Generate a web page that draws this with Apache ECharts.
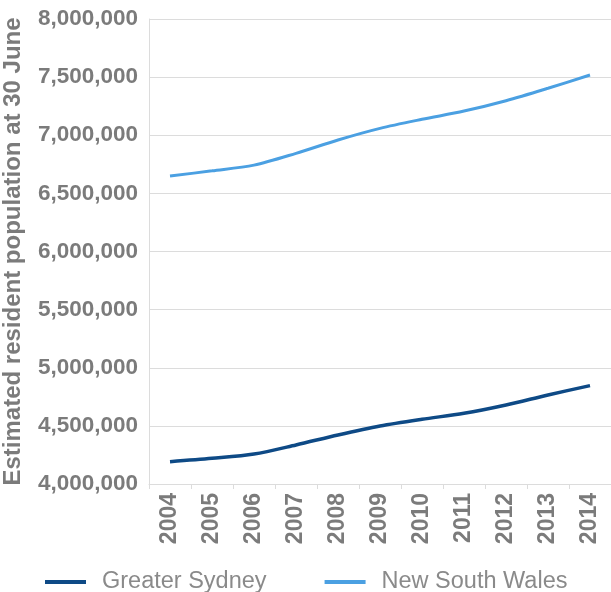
<!DOCTYPE html>
<html>
<head>
<meta charset="utf-8">
<script src="https://cdn.jsdelivr.net/npm/echarts@6/dist/echarts.min.js"></script>
<style>
  html, body { margin: 0; padding: 0; background: #fff; }
  #chart { width: 611px; height: 592px; }
</style>
</head>
<body>
<div id="chart"></div>
<script>
// Estimated resident population at 30 June, 2004-2014
const years = ['2004', '2005', '2006', '2007', '2008', '2009', '2010', '2011', '2012', '2013', '2014'];
const greaterSydney = [4192000, 4221000, 4258000, 4336000, 4422000, 4499000, 4557000, 4608000, 4680000, 4766000, 4846000];
const newSouthWales = [6649000, 6694000, 6743000, 6844000, 6959000, 7059000, 7137000, 7208000, 7297000, 7404000, 7518000];
const yTicks = { min: 4000000, max: 8000000, step: 500000 };

const labelGrey = '#7b7b7b';
const gridGrey = '#dcdcdc';
const font = 'Liberation Sans, Arial, sans-serif';

const chart = echarts.init(document.getElementById('chart'));
chart.setOption({
  animation: false,
  backgroundColor: '#ffffff',
  grid: { left: 149, right: 0, top: 19, bottom: 108, containLabel: false, outerBoundsMode: 'none' },
  legend: {
    left: 40,
    top: 565,
    itemGap: 58,
    itemWidth: 41,
    itemHeight: 4,
    icon: 'rect',
    textStyle: { color: '#8a8a8a', fontFamily: font, fontSize: 23.5, padding: [0, 0, 0, 11] },
    data: ['Greater Sydney', 'New South Wales']
  },
  xAxis: {
    type: 'category',
    data: years,
    boundaryGap: true,
    axisLine: { lineStyle: { color: gridGrey, width: 1 } },
    axisTick: { show: true, length: 5, lineStyle: { color: gridGrey } },
    axisLabel: {
      rotate: 90,
      margin: 9,
      color: labelGrey,
      fontFamily: font,
      fontSize: 23,
      fontWeight: 'bold'
    }
  },
  yAxis: {
    type: 'value',
    min: yTicks.min,
    max: yTicks.max,
    interval: yTicks.step,
    name: 'Estimated resident population at 30 June',
    nameLocation: 'middle',
    nameGap: 124,
    nameTextStyle: { color: labelGrey, fontFamily: font, fontSize: 24, fontWeight: 'bold' },
    axisLine: { show: true, lineStyle: { color: gridGrey, width: 1 } },
    axisTick: { show: false },
    splitLine: { lineStyle: { color: gridGrey, width: 1 } },
    axisLabel: {
      margin: 11,
      color: labelGrey,
      fontFamily: font,
      fontSize: 22.5,
      fontWeight: 'bold',
      formatter: v => v.toLocaleString('en-US')
    }
  },
  series: [
    {
      name: 'Greater Sydney',
      type: 'line',
      data: greaterSydney,
      smooth: 0.3,
      showSymbol: false,
      itemStyle: { color: '#0e4a86' },
      lineStyle: { color: '#0e4a86', width: 3.5 }
    },
    {
      name: 'New South Wales',
      type: 'line',
      data: newSouthWales,
      smooth: 0.3,
      showSymbol: false,
      itemStyle: { color: '#4ba0e2' },
      lineStyle: { color: '#4ba0e2', width: 3 }
    }
  ]
});
</script>
</body>
</html>
